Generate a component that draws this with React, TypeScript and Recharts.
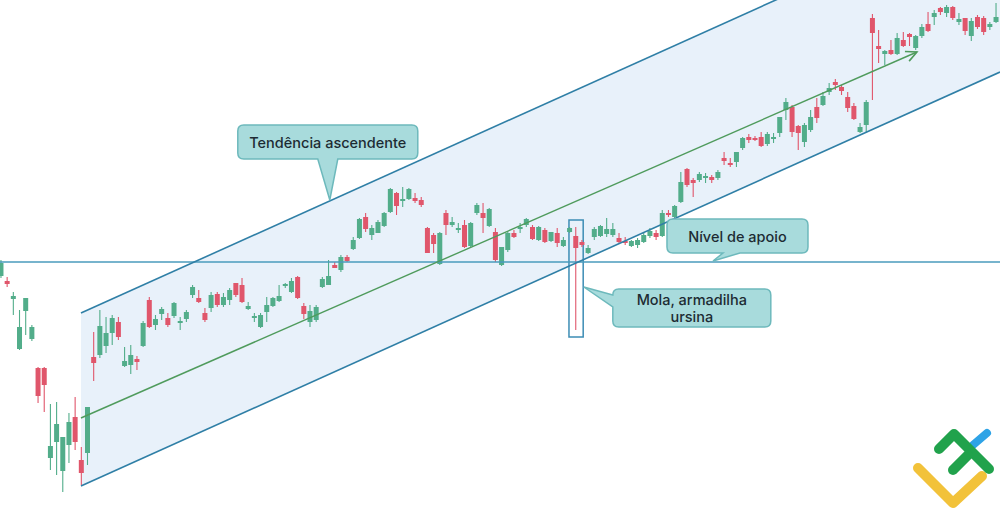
import React from 'react';
import {
  Area,
  Bar,
  ComposedChart,
  ReferenceArea,
  ReferenceDot,
  ReferenceLine,
  XAxis,
  YAxis,
} from 'recharts';

// candle OHLC, one entry per session (index = session number)
const opens = [
  243, 238, 220, 170, 208, 180, 151, 151, 61, 77, 48, 74, 102, 59, 66, 162, 164, 173, 186, 197,
  153, 154, 160, 173, 219, 194, 205, 201, 203, 196, 200, 224, 221, 206, 211, 225, 214, 219, 236, 234,
  210, 201, 192, 207, 213, 218, 233, 227, 242, 213, 197, 199, 232, 234, 254, 249, 262, 270, 281, 302,
  284, 286, 293, 307, 326, 318, 320, 321, 319, 291, 284, 255, 306, 294, 289, 294, 273, 306, 306, 293,
  287, 254, 269, 286, 290, 294, 292, 279, 289, 278, 286, 273, 287, 283, 277, 266, 282, 283, 285, 284,
  281, 278, 273, 274, 277, 283, 286, 283, 306, 302, 317, 350, 339, 339, 341, 342, 341, 361, 356, 357,
  371, 382, 381, 382, 375, 380, 386, 409, 412, 393, 377, 389, 412, 414, 427, 437, 432, 422, 413, 387,
  394, 501, 473, 465, 469, 465, 479, 485, 471, 483, 495, 502, 511, 506, 512, 497, 501, 483, 502, 501,
  492, 497,
];
const highs = [
  259, 242, 227, 209, 221, 194, 152, 152, 115, 117, 82, 106, 122, 72, 112, 187, 209, 202, 204, 202,
  172, 174, 163, 198, 222, 204, 212, 206, 217, 202, 209, 234, 229, 211, 227, 227, 226, 231, 236, 241,
  217, 206, 206, 222, 222, 234, 236, 241, 243, 216, 214, 214, 242, 259, 257, 264, 264, 282, 301, 306,
  294, 299, 307, 331, 327, 332, 331, 326, 322, 292, 286, 287, 309, 302, 296, 299, 297, 316, 316, 311,
  291, 272, 287, 289, 296, 301, 294, 293, 291, 287, 291, 282, 292, 292, 279, 274, 292, 294, 301, 296,
  286, 282, 279, 281, 286, 291, 289, 309, 309, 314, 347, 351, 341, 347, 346, 344, 349, 367, 361, 367,
  382, 385, 383, 387, 387, 386, 402, 421, 414, 394, 396, 409, 421, 427, 436, 440, 434, 427, 416, 396,
  419, 505, 489, 469, 479, 486, 487, 486, 484, 495, 507, 509, 512, 514, 513, 506, 501, 501, 504, 503,
  497, 516,
];
const lows = [
  241, 232, 204, 169, 184, 178, 116, 107, 49, 44, 27, 56, 69, 34, 54, 138, 161, 166, 174, 179,
  152, 145, 149, 172, 191, 189, 199, 192, 201, 189, 197, 221, 216, 197, 207, 212, 212, 214, 222, 216,
  209, 197, 191, 197, 212, 217, 231, 226, 220, 200, 192, 197, 231, 234, 251, 247, 257, 269, 280, 287,
  279, 286, 292, 306, 304, 312, 319, 316, 312, 266, 266, 254, 284, 292, 286, 271, 272, 304, 286, 292,
  257, 253, 267, 281, 286, 292, 279, 278, 276, 277, 272, 272, 286, 189, 272, 265, 279, 282, 282, 282,
  276, 274, 272, 271, 276, 281, 279, 282, 302, 301, 316, 332, 322, 337, 336, 336, 339, 354, 352, 352,
  369, 376, 378, 372, 373, 376, 382, 399, 382, 369, 372, 387, 396, 413, 424, 429, 424, 407, 399, 386,
  387, 419, 456, 454, 464, 464, 472, 473, 469, 481, 487, 494, 504, 502, 499, 494, 484, 478, 490, 484,
  489, 496,
];
const closes = [
  256, 235, 223, 192, 221, 192, 123, 134, 73, 95, 82, 97, 77, 46, 112, 156, 193, 186, 201, 182,
  158, 164, 157, 196, 192, 200, 210, 194, 216, 198, 207, 232, 217, 199, 224, 214, 222, 229, 224, 217,
  213, 203, 204, 214, 221, 223, 235, 238, 221, 205, 208, 212, 240, 243, 251, 262, 258, 279, 300, 290,
  291, 297, 306, 330, 313, 320, 330, 318, 314, 266, 275, 286, 294, 297, 291, 272, 296, 314, 301, 310,
  259, 272, 286, 282, 292, 300, 280, 292, 277, 287, 276, 279, 291, 271, 274, 271, 290, 293, 290, 290,
  277, 276, 278, 279, 284, 288, 282, 306, 304, 313, 337, 334, 336, 345, 343, 339, 347, 358, 354, 367,
  381, 379, 379, 373, 385, 382, 402, 417, 387, 386, 394, 402, 401, 423, 431, 434, 428, 411, 400, 392,
  417, 486, 470, 468, 465, 481, 473, 482, 483, 492, 488, 506, 507, 512, 501, 500, 488, 498, 492, 487,
  495, 502,
];

// ascending channel: session index and the two bounding prices at each end
const channelIdx = [12.94, 161.64];
const channelLower = [33, 447];
const channelUpper = [206, 620];

// trend arrow through the channel
const trendIdx = [12.94, 148.2];
const trendPrice = [101, 467];

const supportLevel = 257;

// spring / bear trap candle frame
const trapIdx = [91.9, 94.2];
const trapPrice = [182, 299];

const GREEN = '#52ad8a';
const RED = '#e0566b';
const CHANNEL = '#2f7fa6';
const SUPPORT = '#4a9bbd';
const TREND = '#4f9b5c';
const BALLOON = '#a8dbdc';
const BALLOON_EDGE = '#6db9bc';
const BODY_W = 5;

const candles = opens.map((o, k) => ({
  i: k,
  open: o,
  high: highs[k],
  low: lows[k],
  close: closes[k],
}));

const channel = channelIdx.map((i, k) => ({ i, band: [channelLower[k], channelUpper[k]] }));

function Candle(props: any) {
  const { x, y, width, height, payload } = props;
  const top = Math.min(y, y + height);
  const h = Math.abs(height);
  const { open, close, high, low } = payload;
  const color = close >= open ? GREEN : RED;
  const px = h / (high - low || 1);
  const bodyTop = top + (high - Math.max(open, close)) * px;
  const bodyH = Math.max(Math.abs(open - close) * px, 1.8);
  const cx = x + width / 2;
  return (
    <g>
      <line x1={cx} x2={cx} y1={top} y2={top + h} stroke={color} strokeWidth={1.1} />
      <rect x={cx - BODY_W / 2} y={bodyTop} width={BODY_W} height={bodyH} fill={color} />
    </g>
  );
}

function TrendArrow(props: any) {
  const { x1, y1, x2, y2 } = props;
  const a = Math.atan2(y2 - y1, x2 - x1) + Math.PI;
  const len = 12;
  const s = 0.45;
  const p1 = [x2 + len * Math.cos(a + s), y2 + len * Math.sin(a + s)];
  const p2 = [x2 + len * Math.cos(a - s), y2 + len * Math.sin(a - s)];
  return (
    <g>
      <line x1={x1} y1={y1} x2={x2} y2={y2} stroke={TREND} strokeWidth={1.4} />
      <path
        d={`M${p1[0]},${p1[1]} L${x2},${y2} L${p2[0]},${p2[1]}`}
        fill="none"
        stroke={TREND}
        strokeWidth={1.6}
      />
    </g>
  );
}

type Side = 'bottom' | 'left';

function balloonPath(cx: number, cy: number, box: number[], side: Side, b0: number, b1: number) {
  const l = cx + box[0];
  const r = cx + box[1];
  const t = cy + box[2];
  const b = cy + box[3];
  const k = 6;
  let d = `M${l + k},${t} H${r - k} Q${r},${t} ${r},${t + k} V${b - k} Q${r},${b} ${r - k},${b}`;
  if (side === 'bottom') d += ` H${cx + b1} L${cx},${cy} L${cx + b0},${b}`;
  d += ` H${l + k} Q${l},${b} ${l},${b - k}`;
  if (side === 'left') d += ` V${cy + b1} L${cx},${cy} L${l},${cy + b0}`;
  d += ` V${t + k} Q${l},${t} ${l + k},${t} Z`;
  return d;
}

function makeBalloon(lines: string[], box: number[], side: Side, b0: number, b1: number) {
  return (props: any) => {
    const { cx, cy } = props;
    const mx = cx + (box[0] + box[1]) / 2;
    const my = cy + (box[2] + box[3]) / 2;
    const lh = 17;
    return (
      <g>
        <path
          d={balloonPath(cx, cy, box, side, b0, b1)}
          fill={BALLOON}
          stroke={BALLOON_EDGE}
          strokeWidth={1.5}
        />
        {lines.map((s, n) => (
          <text
            key={s}
            x={mx}
            y={my + (n - (lines.length - 1) / 2) * lh}
            textAnchor="middle"
            dominantBaseline="central"
            fontFamily="Inter, 'Noto Sans', sans-serif"
            fontSize={14.5}
            fontWeight={500}
            fill="#1d2b33"
          >
            {s}
          </text>
        ))}
      </g>
    );
  };
}

function Logo() {
  return (
    <svg
      width={100}
      height={100}
      style={{ position: 'absolute', left: 900, top: 415 }}
      viewBox="900 415 100 100"
    >
      <g fill="none" strokeLinecap="round" strokeLinejoin="round">
        <path d="M918,468 L953,503 L982,476" stroke="#f2c23a" strokeWidth={10} />
        <path d="M973,445 L987,433" stroke="#2ea3e6" strokeWidth={8} />
        <path d="M939,449 L954,434 L989,469" stroke="#21a24c" strokeWidth={10} />
        <path d="M953,470 L968,455" stroke="#21a24c" strokeWidth={10} />
      </g>
    </svg>
  );
}

export default function App() {
  return (
    <div
      style={{
        position: 'fixed',
        left: 0,
        top: 0,
        width: 1000,
        height: 519,
        background: '#ffffff',
        overflow: 'hidden',
      }}
    >
      <ComposedChart
        width={1000}
        height={519}
        data={candles}
        margin={{ top: 0, right: 0, bottom: 0, left: 0 }}
      >
        <XAxis dataKey="i" type="number" domain={[-0.16, 161.64]} allowDataOverflow hide />
        <YAxis type="number" domain={[0, 519]} allowDataOverflow hide />
        <Area
          data={channel}
          dataKey="band"
          type="linear"
          fill="#e8f1fa"
          fillOpacity={1}
          stroke="none"
          dot={false}
          activeDot={false}
          isAnimationActive={false}
        />
        <ReferenceLine
          y={supportLevel}
          stroke={SUPPORT}
          strokeWidth={1.6}
          ifOverflow="hidden"
        />
        <ReferenceLine
          segment={[
            { x: channelIdx[0], y: channelUpper[0] },
            { x: channelIdx[1], y: channelUpper[1] },
          ]}
          stroke={CHANNEL}
          strokeWidth={1.6}
          ifOverflow="hidden"
        />
        <ReferenceLine
          segment={[
            { x: channelIdx[0], y: channelLower[0] },
            { x: channelIdx[1], y: channelLower[1] },
          ]}
          stroke={CHANNEL}
          strokeWidth={1.6}
          ifOverflow="hidden"
        />
        <ReferenceLine
          segment={[
            { x: trendIdx[0], y: trendPrice[0] },
            { x: trendIdx[1], y: trendPrice[1] },
          ]}
          ifOverflow="hidden"
          shape={TrendArrow}
        />
        <Bar
          dataKey={(d: any) => [d.low, d.high]}
          barSize={5}
          shape={Candle}
          isAnimationActive={false}
        />
        <ReferenceArea
          x1={trapIdx[0]}
          x2={trapIdx[1]}
          y1={trapPrice[0]}
          y2={trapPrice[1]}
          fill="none"
          fillOpacity={0}
          stroke="#3d8db5"
          strokeWidth={1.5}
          ifOverflow="visible"
        />
        <ReferenceDot
          x={53.2}
          y={319}
          r={0}
          ifOverflow="visible"
          shape={makeBalloon(['Tendência ascendente'], [-92, 88, -75, -41], 'bottom', -12, 8)}
        />
        <ReferenceDot
          x={115.2}
          y={258}
          r={0}
          ifOverflow="visible"
          shape={makeBalloon(['Nível de apoio'], [-46, 95, -42, -8], 'bottom', 10, 27)}
        />
        <ReferenceDot
          x={94.3}
          y={232}
          r={0}
          ifOverflow="visible"
          shape={makeBalloon(['Mola, armadilha', 'ursina'], [29, 187, 2, 40], 'left', 8, 20)}
        />
      </ComposedChart>
      <Logo />
    </div>
  );
}
